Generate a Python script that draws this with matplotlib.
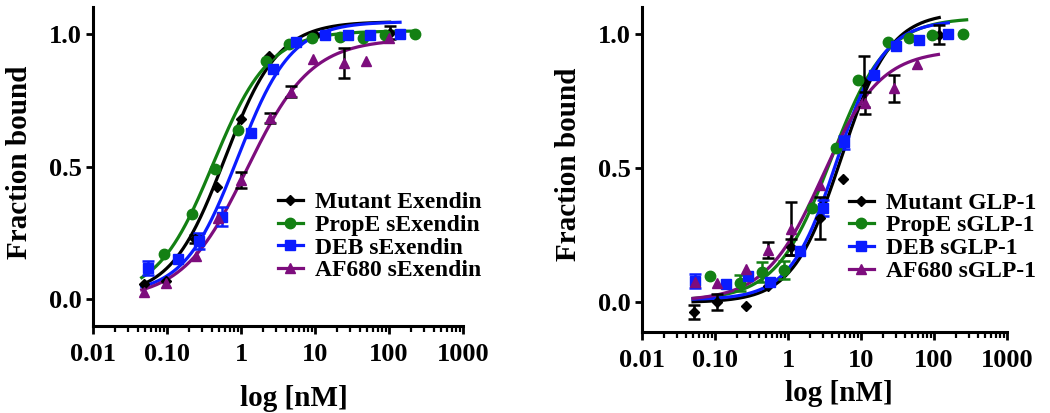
import numpy as np
import matplotlib
matplotlib.use("Agg")
from matplotlib import pyplot as plt
from matplotlib.ticker import LogLocator, NullFormatter

plt.rcParams['font.family'] = ['Liberation Serif', 'DejaVu Serif']
plt.rcParams['font.weight'] = 'bold'

colors = ["black", "#138013", "#0a1cff", "#7d0d7d"]
markers = ["D", "o", "s", "^"]
marker_sizes = [5, 7.5, 7, 7.5]

# ---- Exendin panel ----
ex_labels = ["Mutant Exendin", "PropE sExendin", "DEB sExendin", "AF680 sExendin"]
ex_x = [
    [0.049, 0.097, 0.24, 0.48, 0.99, 2.4, 10.0, 102],
    [0.090, 0.22, 0.445, 0.90, 2.2, 4.4, 9.0, 21.7, 45, 89, 222],
    [0.055, 0.14, 0.27, 0.56, 1.35, 2.7, 5.5, 13.7, 28, 55.6, 141],
    [0.049, 0.097, 0.244, 0.49, 0.99, 2.47, 4.8, 9.5, 24.5, 49.6, 100],
]
ex_y = [
    [0.059, 0.068, 0.226, 0.423, 0.68, 0.917, 0.995, 1.003],
    [0.170, 0.323, 0.489, 0.637, 0.896, 0.961, 0.983, 0.989, 0.985, 0.993, 0.998],
    [0.118, 0.152, 0.221, 0.311, 0.626, 0.867, 0.970, 0.995, 0.995, 0.995, 0.998],
    [0.027, 0.060, 0.162, 0.308, 0.448, 0.682, 0.781, 0.905, 0.889, 0.898, 0.985],
]
ex_err = [
    [0, 0, 0.015, 0, 0, 0, 0, 0.024],
    [0, 0, 0, 0, 0, 0, 0, 0, 0, 0, 0],
    [0.025, 0, 0.03, 0.035, 0, 0, 0, 0, 0, 0, 0],
    [0, 0, 0, 0, 0.03, 0.02, 0.02, 0, 0.057, 0, 0],
]
# fitted curves: bottom, top, EC50 (nM), hill, x range
ex_fit = [
    [0.01, 1.045, 0.60, 1.2, 0.0455, 102],
    [0.01, 1.01, 0.42, 1.15, 0.0455, 224],
    [0.02, 1.045, 0.90, 1.2, 0.0455, 141],
    [0.0, 0.98, 1.20, 1.0, 0.0455, 100],
]

# ---- GLP-1 panel ----
glp_labels = ["Mutant GLP-1", "PropE sGLP-1", "DEB sGLP-1", "AF680 sGLP-1"]
glp_x = [
    [0.052, 0.107, 0.27, 0.54, 1.11, 2.78, 5.6, 11.0, 118],
    [0.085, 0.22, 0.44, 0.89, 2.15, 4.55, 9.2, 23.6, 46, 93, 247],
    [0.053, 0.142, 0.285, 0.56, 1.46, 2.98, 5.8, 15.0, 30, 62, 157],
    [0.053, 0.107, 0.266, 0.54, 1.11, 2.74, 11.3, 28, 59],
]
glp_y = [
    [-0.036, 0.001, -0.015, 0.063, 0.205, 0.316, 0.458, 0.822, 0.997],
    [0.097, 0.074, 0.113, 0.122, 0.353, 0.576, 0.828, 0.968, 0.984, 0.996, 1.0],
    [0.080, 0.070, 0.097, 0.076, 0.191, 0.353, 0.596, 0.847, 0.955, 0.978, 1.0],
    [0.075, 0.072, 0.126, 0.195, 0.275, 0.437, 0.743, 0.797, 0.887],
]
glp_err = [
    [0.025, 0.03, 0, 0, 0.03, 0.078, 0, 0.096, 0.035],
    [0, 0.03, 0.037, 0.033, 0, 0, 0, 0, 0, 0, 0],
    [0.027, 0, 0, 0, 0, 0.03, 0.025, 0, 0, 0, 0],
    [0, 0, 0, 0.03, 0.1, 0, 0.04, 0.05, 0],
]
glp_fit = [
    [0.0, 1.08, 5.4, 1.3, 0.05, 118],
    [0.008, 1.06, 3.9, 1.15, 0.05, 280],
    [0.01, 1.05, 4.7, 1.35, 0.05, 157],
    [0.005, 0.94, 3.0, 1.1, 0.05, 115],
]

tick_vals = [0.01, 0.1, 1, 10, 100, 1000]
tick_text = ["0.01", "0.10", "1", "10", "100", "1000"]


def draw_panel(ax, labels, xs, ys, errs, fits, ylim, leg_anchor, ylab_xy, xlab_xy):
    for i in range(4):
        bottom, top, ec50, hill, x0, x1 = fits[i]
        xx = np.logspace(np.log10(x0), np.log10(x1), 300)
        yy = bottom + (top - bottom) / (1 + (ec50 / xx) ** hill)
        ax.plot(xx, yy, color=colors[i], lw=2.3, zorder=2)
    for i in range(4):
        x = np.array(xs[i])
        y = np.array(ys[i])
        e = np.array(errs[i])
        m = e > 0
        ecol = "black" if i == 3 else colors[i]
        ax.errorbar(x[m], y[m], yerr=e[m], fmt="none", ecolor=ecol, elinewidth=1.8,
                    capsize=4.5, capthick=1.8, zorder=3)
        ax.plot(x, y, ls="none", marker=markers[i], ms=marker_sizes[i], color=colors[i], zorder=4)
    # legend proxies
    handles = []
    for i in range(4):
        h, = ax.plot([], [], color=colors[i], lw=2.3, marker=markers[i], ms=marker_sizes[i])
        handles.append(h)
    ax.legend(handles, labels, loc="upper left", bbox_to_anchor=leg_anchor, frameon=False,
              fontsize=17, handlelength=1.05, handletextpad=0.5, labelspacing=0.05,
              borderpad=0, borderaxespad=0, markerscale=1.0, numpoints=1)

    ax.set_xscale("log")
    ax.set_xlim(0.01, 1000)
    ax.set_ylim(*ylim)
    ax.set_xticks(tick_vals)
    ax.set_xticklabels(tick_text)
    ax.xaxis.set_minor_locator(LogLocator(base=10, subs=np.arange(2, 10)))
    ax.xaxis.set_minor_formatter(NullFormatter())
    ax.set_yticks([0.0, 0.5, 1.0])
    ax.set_yticklabels(["0.0", "0.5", "1.0"])
    ax.tick_params(axis="x", which="major", length=6, width=2, labelsize=19, pad=6)
    ax.tick_params(axis="x", which="minor", length=4, width=1.6)
    ax.tick_params(axis="y", which="major", length=5, width=2, labelsize=19, pad=3)
    for s in ["top", "right"]:
        ax.spines[s].set_visible(False)
    for s in ["left", "bottom"]:
        ax.spines[s].set_linewidth(2.2)
    ax.set_ylabel("Fraction bound", fontsize=21, fontweight="bold")
    ax.yaxis.set_label_coords(*ylab_xy)
    ax.set_xlabel("log [nM]", fontsize=21, fontweight="bold")
    ax.xaxis.set_label_coords(*xlab_xy)
    ax.xaxis.label.set_va("top")


fig = plt.figure(figsize=(10.5, 4.13), dpi=100)
ax1 = fig.add_axes([93 / 1050, 1 - 326 / 413, 370 / 1050, 319 / 413])
ax2 = fig.add_axes([642 / 1050, 1 - 332 / 413, 365 / 1050, 325 / 413])

draw_panel(ax1, ex_labels, ex_x, ex_y, ex_err, ex_fit, (-0.1, 1.1),
           (0.5, 0.421), (-0.162, 0.5125), (0.543, -0.185))
draw_panel(ax2, glp_labels, glp_x, glp_y, glp_err, glp_fit, (-0.11, 1.1),
           (0.567, 0.43), (-0.164, 0.517), (0.54, -0.148))

fig.savefig("out.png", dpi=100)
